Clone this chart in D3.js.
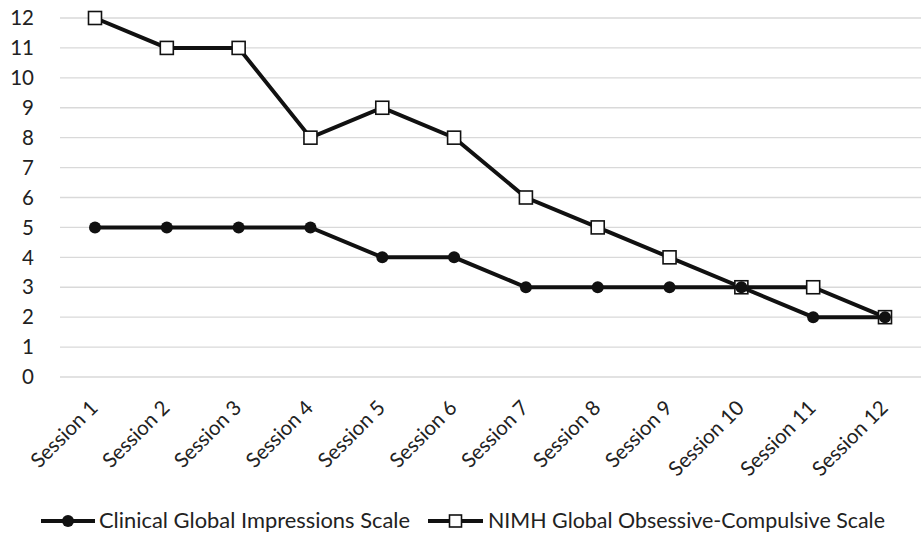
<!DOCTYPE html>
<html>
<head>
<meta charset="utf-8">
<script src="https://cdn.jsdelivr.net/npm/d3@7"></script>
<style>
  body { margin: 0; background: #fff; }
  text { font-family: Lato, "Open Sans", sans-serif; fill: #222; }
</style>
</head>
<body>
<div id="chart"></div>
<script>
var sessions = ["Session 1", "Session 2", "Session 3", "Session 4", "Session 5", "Session 6",
                "Session 7", "Session 8", "Session 9", "Session 10", "Session 11", "Session 12"];
var cgiValues = [5, 5, 5, 5, 4, 4, 3, 3, 3, 3, 2, 2];
var nimhValues = [12, 11, 11, 8, 9, 8, 6, 5, 4, 3, 3, 2];
var yTicks = [0, 1, 2, 3, 4, 5, 6, 7, 8, 9, 10, 11, 12];
var seriesNames = ["Clinical Global Impressions Scale", "NIMH Global Obsessive-Compulsive Scale"];

var width = 922, height = 534;
var fontSize = "20.5px";

var svg = d3.select("#chart")
    .append("svg")
    .attr("width", width)
    .attr("height", height);

var x = d3.scalePoint()
    .domain(sessions)
    .range([95, 885]);

var y = d3.scaleLinear()
    .domain([0, 12])
    .range([377, 18]);

// gridlines
svg.append("g")
    .selectAll("line")
    .data(yTicks)
    .enter()
    .append("line")
    .attr("x1", 60)
    .attr("x2", 921)
    .attr("y1", function(d) { return y(d); })
    .attr("y2", function(d) { return y(d); })
    .style("stroke", "#d9d9d9")
    .attr("stroke-width", 1.3);

// y labels
svg.append("g")
    .selectAll("text")
    .data(yTicks)
    .enter()
    .append("text")
    .attr("x", 34)
    .attr("y", function(d) { return y(d); })
    .attr("dy", "0.35em")
    .attr("text-anchor", "end")
    .style("font-size", fontSize)
    .text(function(d) { return d; });

// x labels, rotated
svg.append("g")
    .selectAll("text")
    .data(sessions)
    .enter()
    .append("text")
    .attr("transform", function(d) { return "translate(" + (x(d) - 1) + ",404) rotate(-45)"; })
    .attr("text-anchor", "end")
    .attr("dy", "0.35em")
    .style("font-size", fontSize)
    .text(function(d) { return d; });

var line = d3.line()
    .x(function(d, i) { return x(sessions[i]); })
    .y(function(d) { return y(d); });

// NIMH series (drawn first)
svg.append("path")
    .datum(nimhValues)
    .attr("d", line)
    .attr("fill", "none")
    .style("stroke", "#111")
    .attr("stroke-width", 4);

svg.append("g")
    .selectAll("rect")
    .data(nimhValues)
    .enter()
    .append("rect")
    .attr("x", function(d, i) { return x(sessions[i]) - 6.5; })
    .attr("y", function(d) { return y(d) - 6.5; })
    .attr("width", 13)
    .attr("height", 13)
    .attr("fill", "#fff")
    .style("stroke", "#111")
    .attr("stroke-width", 1.6);

// CGI series
svg.append("path")
    .datum(cgiValues)
    .attr("d", line)
    .attr("fill", "none")
    .style("stroke", "#111")
    .attr("stroke-width", 4);

svg.append("g")
    .selectAll("circle")
    .data(cgiValues)
    .enter()
    .append("circle")
    .attr("cx", function(d, i) { return x(sessions[i]); })
    .attr("cy", function(d) { return y(d); })
    .attr("r", 6)
    .attr("fill", "#111");

// legend
var legendY = 521;
var leg1 = svg.append("g").attr("transform", "translate(41," + legendY + ")");
leg1.append("line").attr("x1", 0).attr("x2", 54).style("stroke", "#111").attr("stroke-width", 4);
leg1.append("circle").attr("cx", 27).attr("r", 6).attr("fill", "#111");
leg1.append("text").attr("x", 58).attr("dy", "0.35em").style("font-size", fontSize)
    .attr("textLength", 311).attr("lengthAdjust", "spacingAndGlyphs").text(seriesNames[0]);

var leg2 = svg.append("g").attr("transform", "translate(428," + legendY + ")");
leg2.append("line").attr("x1", 0).attr("x2", 55).style("stroke", "#111").attr("stroke-width", 4);
leg2.append("rect").attr("x", 21.5).attr("y", -6).attr("width", 12).attr("height", 12)
    .attr("fill", "#fff").style("stroke", "#111").attr("stroke-width", 1.6);
leg2.append("text").attr("x", 60).attr("dy", "0.35em").style("font-size", fontSize)
    .attr("textLength", 397).attr("lengthAdjust", "spacingAndGlyphs").text(seriesNames[1]);
</script>
</body>
</html>
